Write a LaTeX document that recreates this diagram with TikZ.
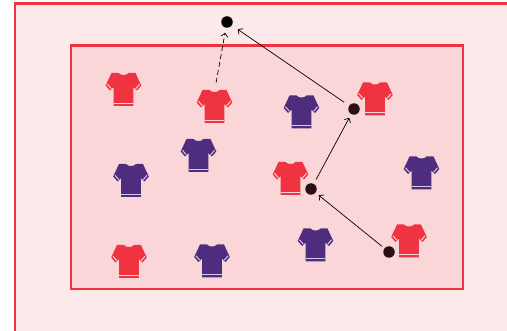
\documentclass[tikz,border=0pt]{standalone}
\usetikzlibrary{arrows.meta}
\definecolor{pitchout}{HTML}{FDE9EA}
\definecolor{pitchin}{HTML}{FBD6D9}
\definecolor{lineRed}{HTML}{EE3342}
\definecolor{shirtRed}{HTML}{EF3340}
\definecolor{stripeRed}{HTML}{FCD3D7}
\definecolor{shirtPurple}{HTML}{4E2D7F}
\definecolor{stripePurple}{HTML}{D7C8EA}
\definecolor{dotDark}{HTML}{2A1012}
\tikzset{
  shirt/.pic={
    \fill[\shirtcol] (-5,16.5) .. controls (-3,13.8) and (3,13.8) .. (5,16.5)
      -- (12,16.5) -- (17.8,4) -- (13.5,-1) -- (9.8,2.5) -- (9.8,-16.5)
      -- (-9.8,-16.5) -- (-9.8,2.5) -- (-13.5,-1) -- (-17.8,4) -- (-12,16.5) -- cycle;
    \draw[\stripecol, line width=1pt] (16,5.2) -- (12.2,0.8);
    \draw[\stripecol, line width=1pt] (-16,5.2) -- (-12.2,0.8);
    \draw[\stripecol, line width=1.2pt] (-9.8,-13.8) -- (9.8,-13.8);
    \coordinate (-top) at (0,15);
  },
  redshirt/.style={/utils/exec={\def\shirtcol{shirtRed}\def\stripecol{stripeRed}}},
  purpleshirt/.style={/utils/exec={\def\shirtcol{shirtPurple}\def\stripecol{stripePurple}}},
  ball/.style={circle, fill=black, minimum size=11.5pt, inner sep=0pt},
  player/.style={circle, fill=dotDark, minimum size=11.5pt, inner sep=0pt},
  pass/.style={draw=black, line width=0.7pt, -{Straight Barb[length=3.5pt,width=7pt]}},
}
\begin{document}
\begin{tikzpicture}[x=1pt,y=1pt]
\useasboundingbox (0,0) rectangle (507,330);
\clip (0,0) rectangle (507,330);
\fill[white] (0,0) rectangle (507,330);
\draw[lineRed, fill=pitchout, line width=2.2pt] (15,326.5) rectangle (530,-20);
\draw[lineRed, fill=pitchin, line width=2.2pt] (71,284.5) rectangle (463,41);
% red shirts
\pic[redshirt] (r1) at (123.5,240.5) {shirt};
\pic[redshirt] (r2) at (214.5,223.5) {shirt};
\pic[redshirt] (r3) at (375,231) {shirt};
\pic[redshirt] (r4) at (290.5,151.5) {shirt};
\pic[redshirt] (r5) at (409,89) {shirt};
\pic[redshirt] (r6) at (129,68.5) {shirt};
% purple shirts
\pic[purpleshirt] (p1) at (301.5,218) {shirt};
\pic[purpleshirt] (p2) at (198.5,174.5) {shirt};
\pic[purpleshirt] (p3) at (131,149.5) {shirt};
\pic[purpleshirt] (p4) at (421.5,157) {shirt};
\pic[purpleshirt] (p5) at (315.5,85) {shirt};
\pic[purpleshirt] (p6) at (212,69) {shirt};
% ball and players
\node[ball] (t) at (227,308) {};
\node[player] (d1) at (354,221) {};
\node[player] (d2) at (311,141) {};
\node[player] (d3) at (389,78) {};
% passes
\draw[pass, shorten <=3pt, shorten >=4pt] (d3) -- (d2);
\draw[pass, shorten <=5pt, shorten >=4pt] (d2) -- (d1);
\draw[pass, shorten <=6pt, shorten >=7pt] (d1) -- (t);
\draw[pass, dashed, dash pattern=on 5pt off 3pt, shorten <=9pt, shorten >=5pt] (r2-top) -- (t);
\end{tikzpicture}
\end{document}
